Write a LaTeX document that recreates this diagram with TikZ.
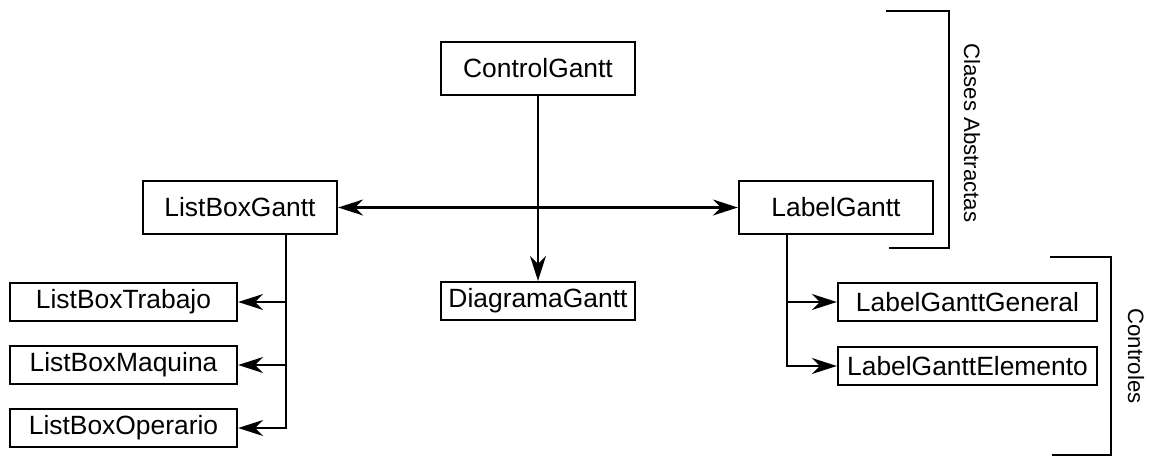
\documentclass[tikz,border=0pt]{standalone}
\usepackage{fontspec}
\setmainfont{Liberation Sans}
\usepackage{tikz}
\usetikzlibrary{arrows.meta}

\begin{document}
\begin{tikzpicture}[x=1pt, y=-1pt, line width=2.3pt,
    font=\fontsize{26.4}{30}\selectfont,
    main/.style = {draw, rectangle, inner sep=0pt, minimum width=194pt, minimum height=53pt},
    subnode/.style = {draw, rectangle, inner sep=0pt, minimum height=38pt},
    tip/.style = {-{Stealth[length=25pt, width=16pt, inset=8pt]}},
    brace/.style = {font=\fontsize{22.2}{26}\selectfont, rotate=-90}]
    \useasboundingbox (0,0) rectangle (1149,459);
        % clases abstractas
        \node[main] (CG) at (538, 68.5) {ControlGantt};
        \node[main] (LBG) at (240, 207.5) {ListBoxGantt};
        \node[main] (LG) at (836, 207.5) {LabelGantt};
        \node[subnode, minimum width=194pt] (DG) at (538, 301) {DiagramaGantt};
        % controles
        \node[subnode, minimum width=227pt] (LBT) at (123.5, 302) {ListBoxTrabajo};
        \node[subnode, minimum width=227pt] (LBM) at (123.5, 365) {ListBoxMaquina};
        \node[subnode, minimum width=227pt] (LBO) at (123.5, 428) {ListBoxOperario};
        \node[subnode, minimum width=259pt] (LGG) at (967.5, 302) {LabelGanttGeneral};
        \node[subnode, minimum width=259pt] (LGE) at (967.5, 366) {LabelGanttElemento};
        \coordinate (lbx) at (286, 0);
        \coordinate (lgx) at (787, 0);
        \path[tip]
        (CG) edge (DG);
        \path[{Stealth[length=25pt, width=16pt, inset=8pt]}-{Stealth[length=25pt, width=16pt, inset=8pt]}]
        (LBG) edge (LG);
        \draw[tip] (LBG.south -| lbx) |- (LBT.east);
        \draw[tip] (LBG.south -| lbx) |- (LBM.east);
        \draw[tip] (LBG.south -| lbx) |- (LBO.east);
        \draw[tip] (LG.south -| lgx) |- (LGG.west);
        \draw[tip] (LG.south -| lgx) |- (LGE.west);
        % llaves
        \draw (886, 11) -| (949, 248) -- (889, 248);
        \node[brace] (abs) at (972, 133) {Clases Abstractas};
        \draw (1050, 257) -| (1111, 455) -- (1052, 455);
        \node[brace] (ctl) at (1136, 356) {Controles};
    \end{tikzpicture}
\end{document}
